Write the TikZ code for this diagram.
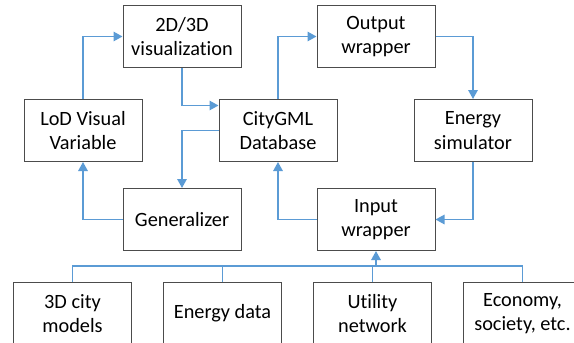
\documentclass[tikz,border=0pt]{standalone}
\usepackage{fontspec}
\setmainfont[Ligatures=NoCommon]{Carlito}
\usetikzlibrary{arrows.meta, positioning}
\definecolor{linkblue}{HTML}{5B9BD5}

\begin{document}
\begin{tikzpicture}[x=1pt, y=1pt, >={Triangle[length=9pt,width=9.5pt]},
  box/.style={rectangle, draw=black!70, line width=1pt, fill=white, minimum height=62pt, minimum width=118pt, inner sep=0pt, align=center, font=\fontsize{20.3}{24.5}\selectfont},
  link/.style={draw=linkblue, line width=1.4pt}]
  \clip (0,0) rectangle (574,-343);
  % middle row
  \node[box] (db) at (278,-130.5) {CityGML\\Database};
  \node[box, left=76pt of db] (lod) {LoD Visual\\Variable};
  \node[box, right=76pt of db] (sim) {Energy\\simulator};
  % top and third row
  \node[box, above right=31pt and -20pt of lod] (vis) {2D/3D\\visualization};
  \node[box, above right=31pt and -21pt of db] (out) {Output\\wrapper};
  \node[box, below right=26pt and -20pt of lod] (gen) {Generalizer};
  \node[box, below right=26pt and -21pt of db] (inp) {Input\\wrapper};
  % data sources
  \node[box, anchor=north west] (city) at (13,-282) {3D city\\models};
  \node[box, right=31pt of city] (edata) {Energy data};
  \node[box, right=31pt of edata] (util) {Utility\\network};
  \node[box, right=31pt of util] (econ) {Economy,\\society, etc.};
  \coordinate (bus) at (0,-266);

  \draw[link, ->] (lod.north) |- (vis.west);
  \draw[link, ->] (vis.south) |- ([yshift=25pt]db.west);
  \draw[link, ->] (db.west) -| (gen.north);
  \draw[link, ->] (gen.west) -| (lod.south);
  \draw[link, ->] (db.north) |- (out.west);
  \draw[link, ->] (out.east) -| (sim.north);
  \draw[link, ->] (sim.south) |- (inp.east);
  \draw[link, ->] (inp.west) -| (db.south);
  \draw[link] (city.north) |- (econ.north |- bus) -- (econ.north);
  \draw[link] (edata.north) -- (edata.north |- bus);
  \draw[link] (util.north) -- (util.north |- bus);
  \draw[link, ->] (inp.south |- bus) -- (inp.south);
\end{tikzpicture}
\end{document}
